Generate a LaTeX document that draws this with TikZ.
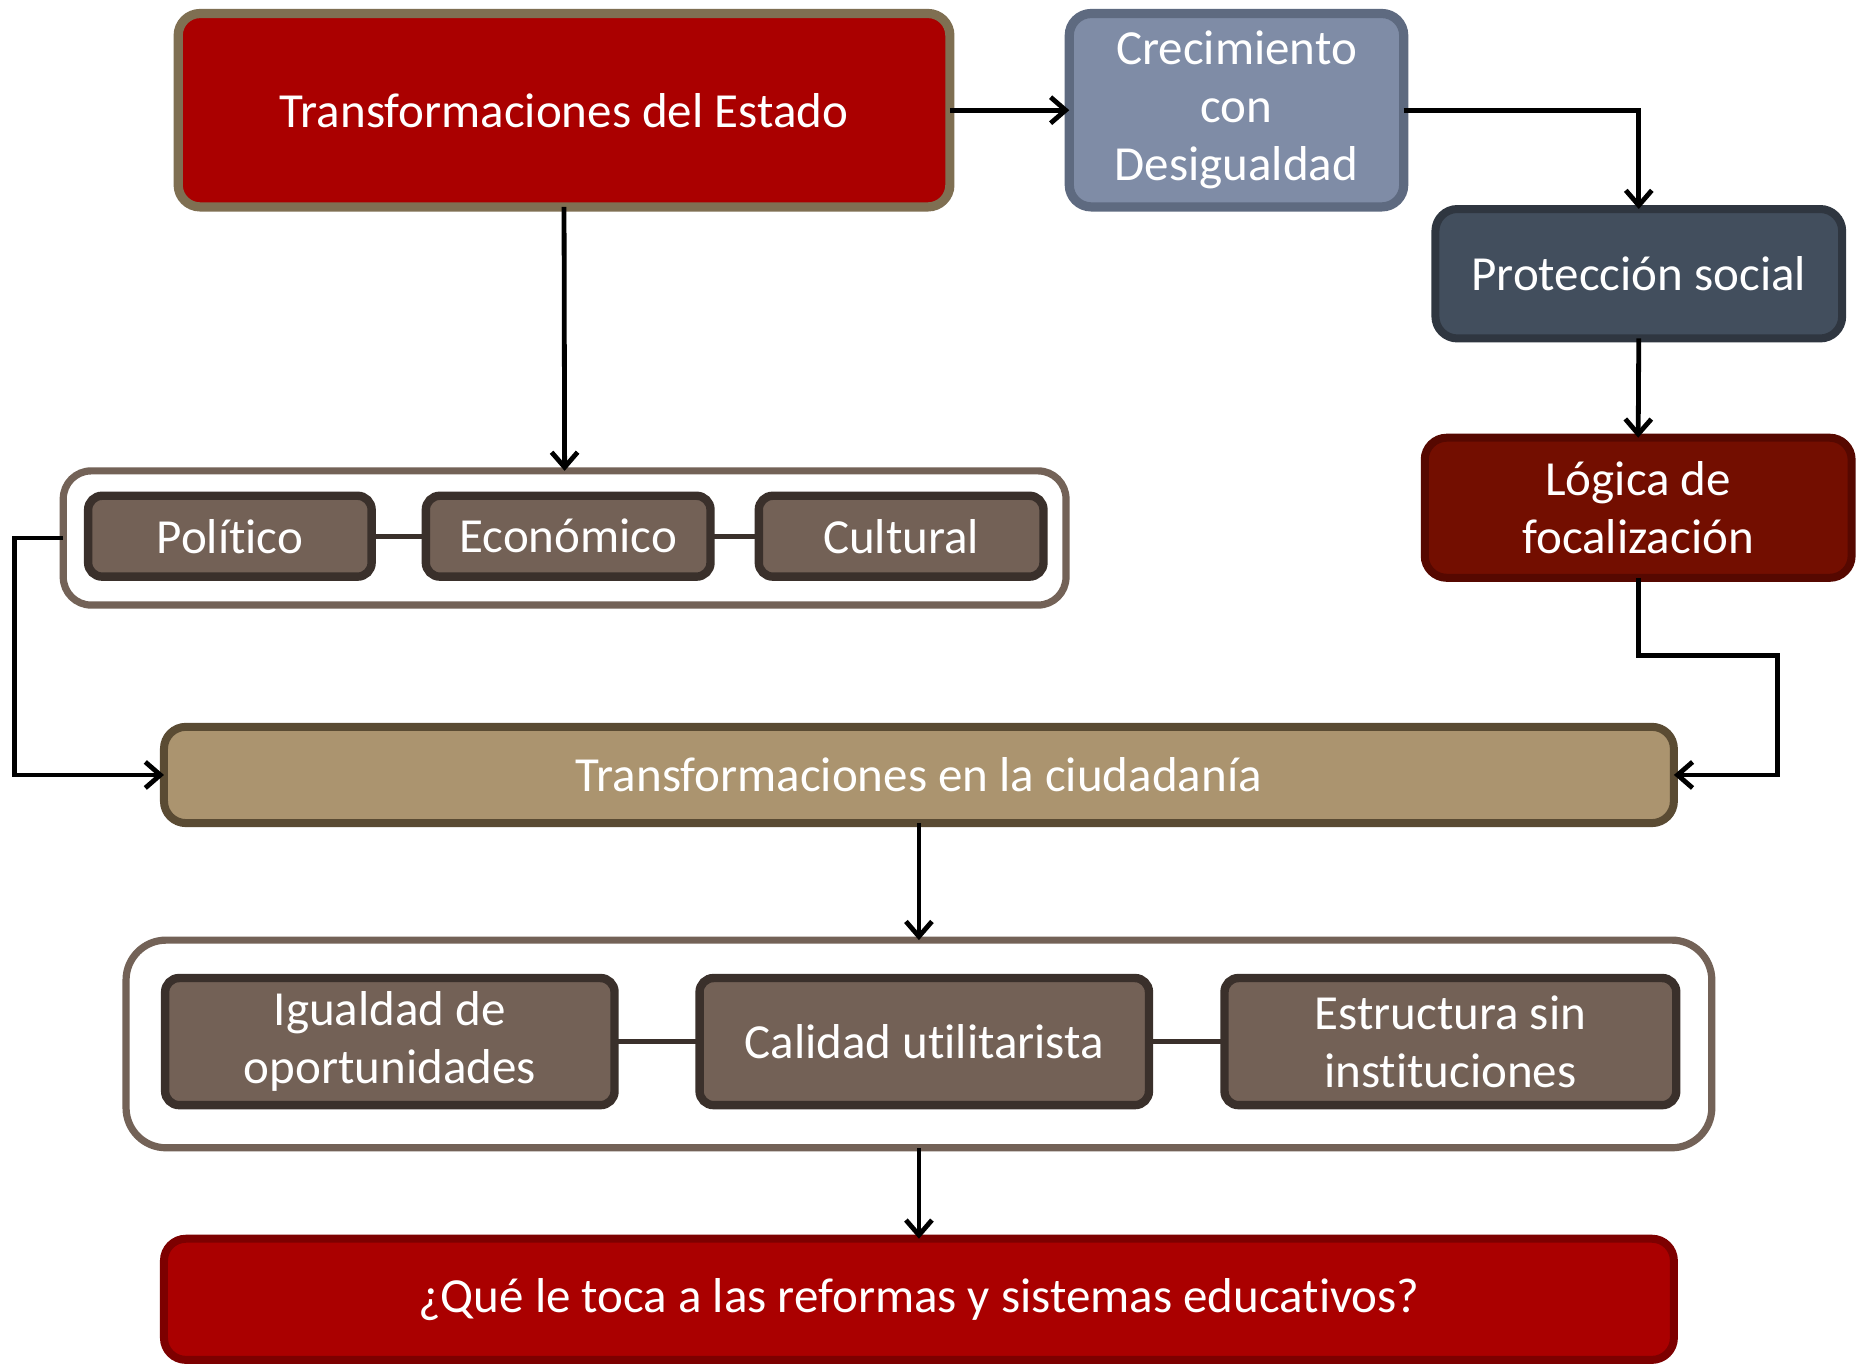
\documentclass[tikz,border=0pt]{standalone}
\usepackage{fontspec}
\setmainfont{Carlito}[Ligatures=NoCommon]
\usetikzlibrary{arrows.meta}
\definecolor{cred}{HTML}{AA0000}
\definecolor{credb}{HTML}{7F6F52}
\definecolor{cblue}{HTML}{7F8CA6}
\definecolor{cblueb}{HTML}{5E6A80}
\definecolor{cslate}{HTML}{424E5D}
\definecolor{cslateb}{HTML}{2F3640}
\definecolor{cmaroon}{HTML}{730E00}
\definecolor{cmaroonb}{HTML}{560800}
\definecolor{cinner}{HTML}{736156}
\definecolor{cinnerb}{HTML}{3A302B}
\definecolor{cgroupb}{HTML}{736257}
\definecolor{ctan}{HTML}{AB946F}
\definecolor{ctanb}{HTML}{5A4B33}
\definecolor{credfb}{HTML}{7D0000}
\newcommand\bx[7]{%
  \node[#6, minimum width={(#4-#2)*0.5925pt-4pt}, minimum height={(#5-#3)*0.5925pt-4pt}]
    (#1) at ({(#2+#4)/2},{(#3+#5)/2}) {#7};}
\tikzset{
  base/.style={rectangle, rounded corners=11pt, text=white, align=center,
    inner sep=0pt, outer sep=0pt, font=\fontsize{24.5}{29}\selectfont},
  bigbox/.style={base, line width=4.6pt},
  innerbox/.style={base, rounded corners=7pt, line width=4.2pt, draw=cinnerb, fill=cinner},
  groupbox/.style={rectangle, rounded corners=14pt, line width=3.6pt, draw=cgroupb, fill=white,
    inner sep=0pt, outer sep=0pt},
  arr/.style={line width=2.4pt, -{Straight Barb[length=7.5pt,width=13pt]}},
  gline/.style={line width=2.6pt, draw=cinnerb},
}
\begin{document}
\begin{tikzpicture}[x=0.5925pt, y=-0.5925pt]
\clip (0,0) rectangle (1568,1151);
\fill[white] (0,0) rectangle (1568,1151);
% top row
\bx{A}{147}{8}{805}{178}{bigbox, draw=credb, fill=cred}{Transformaciones del Estado}
\bx{B}{899}{8}{1188}{178}{bigbox, draw=cblueb, fill=cblue}{Crecimiento\\con\\Desigualdad}
\bx{C}{1208}{173}{1558}{289}{bigbox, line width=4pt, draw=cslateb, fill=cslate}{Protección social}
\bx{D}{1199}{366}{1566}{491}{bigbox, line width=4pt, draw=cmaroonb, fill=cmaroon}{Lógica de\\focalización}
% group 1
\bx{G1}{50}{394}{903}{514}{groupbox}{}
\bx{pol}{71}{415}{317}{490}{innerbox}{Político}
\bx{eco}{356}{415}{603}{490}{innerbox}{Económico}
\bx{cul}{637}{415}{884}{490}{innerbox}{Cultural}
\draw[gline] (pol) -- (eco);
\draw[gline] (eco) -- (cul);
% citizenship
\bx{E}{135}{610}{1416}{698}{bigbox, line width=4pt, draw=ctanb, fill=ctan}{Transformaciones en la ciudadanía}
% group 2
\bx{G2}{103}{790}{1448}{972}{groupbox, rounded corners=20pt}{}
\bx{igu}{136}{822}{522}{936}{innerbox}{Igualdad de\\oportunidades}
\bx{cal}{587}{822}{973}{936}{innerbox}{Calidad utilitarista}
\bx{est}{1030}{822}{1418}{936}{innerbox}{Estructura sin\\instituciones}
\draw[gline] (igu) -- (cal);
\draw[gline] (cal) -- (est);
% final
\bx{F}{135}{1042}{1416}{1151}{bigbox, line width=4pt, draw=credfb, fill=cred}{¿Qué le toca a las reformas y sistemas educativos?}
% connectors
\coordinate (k1) at (1500,553);
\coordinate (k2) at (12,454);
\draw[arr] (A.east) -- (B.west);
\draw[arr] (B.east) -| (C.north);
\draw[arr] (C.south) -- (D.north);
\draw[arr] (A.south) -- (G1.north);
\draw[arr] (G1.west) -- (k2) |- (E.west);
\draw[arr] (D.south) |- (k1) |- (E.east);
\draw[arr] (E.south) -- (G2.north);
\draw[arr] (G2.south) -- (F.north);
\end{tikzpicture}
\end{document}
